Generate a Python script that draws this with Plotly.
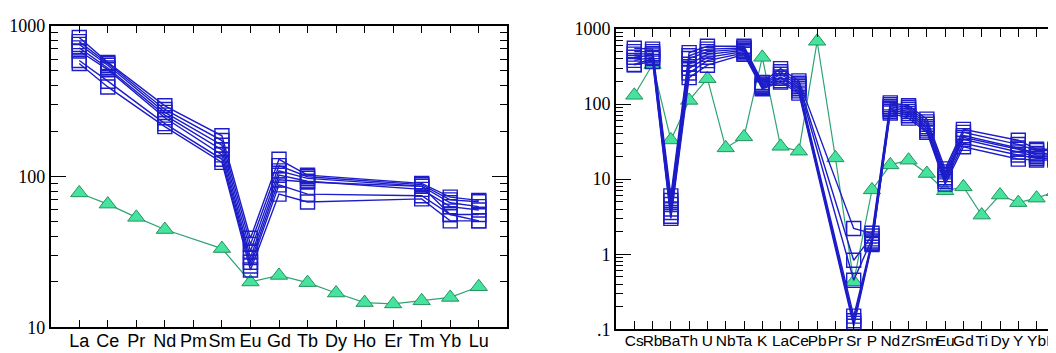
import plotly.graph_objects as go

# ---------------- data ----------------
ree = ["La", "Ce", "Pr", "Nd", "Pm", "Sm", "Eu", "Gd", "Tb", "Dy", "Ho", "Er", "Tm", "Yb", "Lu"]
ree_ref = [77.8, 65.6, 53.6, 44.5, None, 33.3, 20.0, 22.1, 19.8, 16.9, 14.6, 14.3, 15.0, 15.8, 18.6]
ree_s1 = [833, 570, None, 294, None, 186, 39.0, 130, 102, None, None, None, 90.0, 73.0, 69.5]
ree_s2 = [783, 560, None, 278, None, 173, 35.5, 118, 99.6, None, None, None, 88.3, 70.0, 68.0]
ree_s3 = [750, 546, None, 266, None, 161, 32.0, 109, 97.2, None, None, None, 86.3, 67.0, 63.1]
ree_s4 = [711, 523, None, 255, None, 150, 29.0, 102, 93.0, None, None, None, 82.1, 63.1, 60.0]
ree_s5 = [678, 510, None, 245, None, 139, 27.0, 95.0, 92.0, None, None, None, 86.0, 56.0, 56.0]
ree_s6 = [587, 428, None, 224, None, 130, 25.5, 88.0, 76.4, None, None, None, 74.6, 56.0, 50.8]
ree_s7 = [560, 392, None, 214, None, 124, 24.0, 76.4, 67.8, None, None, None, 71.1, 50.8, 50.8]
ree_samples = [ree_s1, ree_s2, ree_s3, ree_s4, ree_s5, ree_s6, ree_s7]

spd = ["Cs", "Rb", "Ba", "Th", "U", "Nb", "Ta", "K", "La", "Ce", "Pb", "Pr", "Sr", "P",
       "Nd", "Zr", "Sm", "Eu", "Gd", "Ti", "Dy", "Y", "Yb", "Lu"]
spd_ref = [131, 337, 33.3, 112, 218, 26.1, 36.6, 420, 27.4, 23.6, 687, 19.2, 0.43, 7.2,
           15.5, 17.9, 11.9, 7.0, 7.9, 3.32, 6.15, 4.87, 5.59, 6.79]
spd_s1 = [556, 540, 6.0, 485, 590, None, 590, 195, 297, 204, None, None, 2.2, 1.9,
          104, 95, 63, 13.7, 46, None, None, 33, 25, 25]
spd_s2 = [500, 500, 5.2, 440, 540, None, 560, 185, 270, 190, None, None, 0.83, 1.75,
          98, 90, 58, 12.5, 42, None, None, 29, 24, 24]
spd_s3 = [463, 470, 4.6, 405, 500, None, 540, 180, 250, 180, None, None, 0.45, 1.6,
          92, 85, 54, 11.5, 38, None, None, 26, 22, 22]
spd_s4 = [420, 450, 4.0, 340, 460, None, 520, 175, 230, 170, None, None, 0.15, 1.5,
          88, 80, 50, 10.5, 36, None, None, 25, 21, 21]
spd_s5 = [382, 420, 3.6, 300, 420, None, 500, 170, 220, 160, None, None, 0.13, 1.45,
          84, 75, 47, 10.0, 34, None, None, 23, 20, 20]
spd_s6 = [337, 405, 3.2, 260, 380, None, 480, 165, 205, 150, None, None, 0.12, 1.4,
          80, 70, 44, 9.4, 30, None, None, 21, 19, 19]
spd_s7 = [333, 370, 3.0, 225, 330, None, 460, 160, 196, 140, None, None, 0.11, 1.35,
          76, 65, 42, 8.6, 27, None, None, 18.5, 18, 18]
spd_samples = [spd_s1, spd_s2, spd_s3, spd_s4, spd_s5, spd_s6, spd_s7]

left_yticks = [10, 100, 1000]
left_ylabels = ["10", "100", "1000"]
right_yticks = [0.1, 1, 10, 100, 1000]
right_ylabels = [".1", "1", "10", "100", "1000"]

# ---------------- style ----------------
BLUE = "#1c1cc8"
GREEN_LINE = "#2ea474"
GREEN_FILL = "#45e39d"
GREEN_EDGE = "#25935f"
W, H = 1056, 353

fig = go.Figure()

def add_samples(xcats, samples, xa, ya, msize):
    for s in samples:
        fig.add_trace(go.Scatter(
            x=xcats, y=s, xaxis=xa, yaxis=ya, mode="lines+markers", connectgaps=True,
            line=dict(color=BLUE, width=1.4),
            marker=dict(symbol="square-open", size=msize, color=BLUE, line=dict(width=1.4, color=BLUE)),
            showlegend=False, hoverinfo="x+y"))

def add_ref(xcats, vals, xa, ya):
    fig.add_trace(go.Scatter(
        x=xcats, y=vals, xaxis=xa, yaxis=ya, mode="lines+markers", connectgaps=True,
        line=dict(color=GREEN_LINE, width=1.2),
        marker=dict(symbol="triangle-up", size=15, color=GREEN_FILL, line=dict(width=1, color=GREEN_EDGE)),
        showlegend=False, hoverinfo="x+y"))

add_ref(ree, ree_ref, "x", "y")
add_samples(ree, ree_samples, "x", "y", 14)
add_ref(spd, spd_ref, "x2", "y2")
add_samples(spd, spd_samples, "x2", "y2", 14)

def minor_vals(lo, hi):
    out = []
    for e in range(lo, hi):
        for m in range(2, 10):
            out.append(m * 10 ** e)
    return out

xfont_l = dict(family="Liberation Sans, Arial, sans-serif", size=18, color="black")
xfont_r = dict(family="Liberation Sans, Arial, sans-serif", size=15.5, color="black")
yfont = dict(family="Liberation Serif, Times New Roman, serif", size=18, color="black")

common_x = dict(type="category", showgrid=False, zeroline=False, showline=True, linecolor="black",
                linewidth=1.8, ticks="inside", ticklen=8, tickwidth=1.3, tickcolor="black",
                mirror="ticks", fixedrange=True, tickangle=0, tickmode="array",
                ticklabeloverflow="allow", ticklabelstandoff=-4)

# left panel geometry
lx0, lx1 = 42.7 / W, 499.3 / W
ly0, ly1 = (H - 328) / H, (H - 8) / H
# right panel geometry (frame extends past the image edge)
rx0, rx1 = 608 / W, 1.0
ry0, ry1 = (H - 330) / H, (H - 11.7) / H

fig.update_layout(
    width=W, height=H, autosize=False,
    margin=dict(l=0, r=0, t=0, b=0, pad=0),
    paper_bgcolor="white", plot_bgcolor="white",
    xaxis=dict(common_x, domain=[lx0, lx1], anchor="y", range=[-1, len(ree)],
               categoryorder="array", categoryarray=ree, tickvals=ree, ticktext=ree,
               tickfont=xfont_l),
    yaxis=dict(type="log", domain=[ly0, ly1], anchor="x", range=[1, 3],
               showgrid=False, zeroline=False, showline=True, linecolor="black", linewidth=1.8,
               ticks="inside", ticklen=15, tickwidth=1.3, tickcolor="black", mirror="ticks",
               tickmode="array", tickvals=left_yticks, ticktext=left_ylabels, tickfont=yfont,
               minor=dict(ticks="inside", ticklen=7, tickwidth=1.1, tickcolor="black",
                          tickmode="array", tickvals=minor_vals(1, 3), showgrid=False),
               fixedrange=True),
    xaxis2=dict(common_x, domain=[rx0, rx1], anchor="y2", range=[-1, 23.5],
                categoryorder="array", categoryarray=spd, tickvals=spd, ticktext=spd,
                tickfont=xfont_r),
    yaxis2=dict(type="log", domain=[ry0, ry1], anchor="x2", range=[-1, 3],
                showgrid=False, zeroline=False, showline=True, linecolor="black", linewidth=1.8,
                ticks="inside", ticklen=15, tickwidth=1.3, tickcolor="black", mirror=False,
                tickmode="array", tickvals=right_yticks, ticktext=right_ylabels, tickfont=yfont,
                minor=dict(ticks="inside", ticklen=7, tickwidth=1.1, tickcolor="black",
                           tickmode="array", tickvals=minor_vals(-1, 3), showgrid=False),
                fixedrange=True),
    yaxis3=dict(type="log", overlaying="y2", side="right", anchor="x2", range=[-1, 3],
                showgrid=False, zeroline=False, showline=False, ticks="inside", ticklen=6,
                tickwidth=1.3, tickcolor="black", tickmode="array", tickvals=right_yticks,
                showticklabels=False, fixedrange=True),
)

fig.write_html("out.html")
